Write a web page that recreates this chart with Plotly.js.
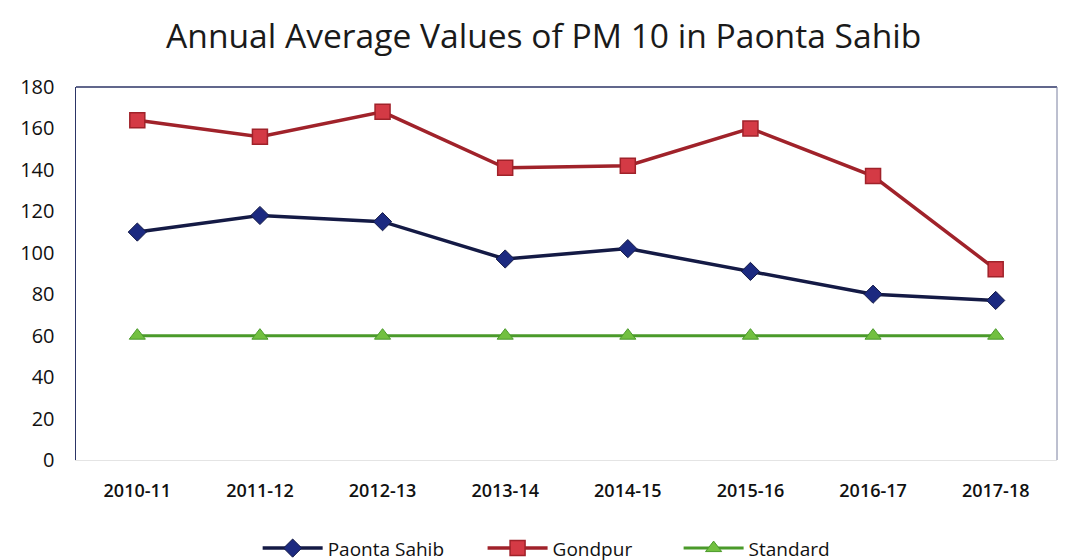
<!DOCTYPE html>
<html>
<head>
<meta charset="utf-8">
<script src="https://cdn.plot.ly/plotly-3.0.1.min.js"></script>
<style>html,body{margin:0;padding:0;background:#fff;}#chart{width:1066px;height:560px;}</style>
</head>
<body>
<div id="chart"></div>
<script>
const years = ["2010-11","2011-12","2012-13","2013-14","2014-15","2015-16","2016-17","2017-18"];
const paontaSahib = [110, 118, 115, 97, 102, 91, 80, 77];
const gondpur = [164, 156, 168, 141, 142, 160, 137, 92];
const standard = [60, 60, 60, 60, 60, 60, 60, 60];
const yTicks = [0, 20, 40, 60, 80, 100, 120, 140, 160, 180];

const traces = [
  {x: years, y: paontaSahib, name: "Paonta Sahib", mode: "lines+markers", type: "scatter", legend: "legend",
   line: {color: "#141a45", width: 3.5},
   marker: {symbol: "diamond", size: 14, color: "#1c2a80", line: {color: "#141a45", width: 1}}},
  {x: years, y: gondpur, name: "Gondpur", mode: "lines+markers", type: "scatter", legend: "legend2",
   line: {color: "#a0222a", width: 3.5},
   marker: {symbol: "square", size: 15, color: "#d43a45", line: {color: "#a0222a", width: 1.5}}},
  {x: years, y: standard, name: "Standard", mode: "lines+markers", type: "scatter", legend: "legend3",
   line: {color: "#4a9a2a", width: 3},
   marker: {symbol: "triangle-up", size: 14, color: "#72c040", line: {color: "#4a9a2a", width: 1}}}
];

const legendBase = {orientation: "h", xanchor: "left", xref: "container", yref: "container", y: 0.021, yanchor: "middle",
  font: {size: 19, color: "#111", family: "Open Sans, sans-serif"}, itemwidth: 60, bgcolor: "rgba(0,0,0,0)"};

const layout = {
  width: 1066, height: 560,
  paper_bgcolor: "#ffffff", plot_bgcolor: "#ffffff",
  margin: {l: 76, r: 9, t: 87, b: 100},
  font: {family: "Open Sans, sans-serif", color: "#1a1a1a"},
  title: {text: "Annual Average Values of PM 10 in Paonta Sahib", x: 0.51, xanchor: "center", y: 0.935, yanchor: "middle",
          font: {size: 33.6, color: "#1a1a1a", family: "Open Sans, sans-serif"}},
  xaxis: {type: "category", range: [-0.5, 7.5], showgrid: false, zeroline: false,
          showline: true, linecolor: "#e4e4e4", linewidth: 1, mirror: false,
          tickfont: {size: 18, color: "#111", family: "Open Sans, sans-serif", weight: 600}, ticks: "", ticklen: 0,
          ticklabelstandoff: 14, automargin: false},
  yaxis: {range: [0, 180], tickvals: yTicks, showgrid: false, zeroline: false,
          showline: true, linecolor: "#2c3566", linewidth: 1.5,
          tickfont: {size: 20, color: "#111", family: "Open Sans, sans-serif"}, ticks: "", ticklen: 0,
          ticklabelstandoff: 16, automargin: false},
  shapes: [
    {type: "line", xref: "paper", yref: "paper", x0: 0, x1: 1, y0: 1, y1: 1, line: {color: "#2c3566", width: 1.5}},
    {type: "line", xref: "paper", yref: "paper", x0: 1, x1: 1, y0: 0, y1: 1, line: {color: "#7a80a0", width: 1}}
  ],
  showlegend: true,
  legend: Object.assign({}, legendBase, {x: 0.2417}),
  legend2: Object.assign({}, legendBase, {x: 0.4527}),
  legend3: Object.assign({}, legendBase, {x: 0.6366})
};

Plotly.newPlot("chart", traces, layout, {displayModeBar: false, staticPlot: true});
</script>
</body>
</html>
